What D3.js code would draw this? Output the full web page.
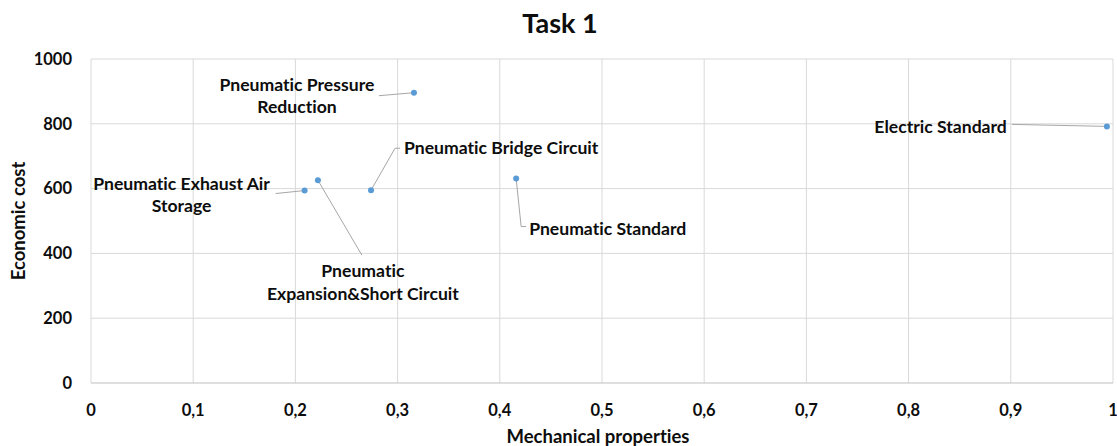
<!DOCTYPE html>
<html>
<head>
<meta charset="utf-8">
<script src="https://cdn.jsdelivr.net/npm/d3@7"></script>
<style>
  body { margin: 0; background: #fff; }
  text { font-family: Lato, "Liberation Sans", sans-serif; font-weight: bold; fill: #0d0d0d;
         font-variant-ligatures: none; font-feature-settings: "liga" 0; }
</style>
</head>
<body>
<div id="chart"></div>
<script>
const names = [
    "Pneumatic Exhaust Air Storage",
    "Pneumatic Expansion&Short Circuit",
    "Pneumatic Bridge Circuit",
    "Pneumatic Pressure Reduction",
    "Pneumatic Standard",
    "Electric Standard"
];
const mechanical = [0.209, 0.222, 0.274, 0.316, 0.416, 0.994];
const cost = [594, 626, 595, 896, 631, 792];
const xTicks = [0, 0.1, 0.2, 0.3, 0.4, 0.5, 0.6, 0.7, 0.8, 0.9, 1];
const yTicks = [0, 200, 400, 600, 800, 1000];

// label placement, pixels relative to the point (lines, anchor, text x/y, leader path)
const labelLayout = [
    { lines: ["Pneumatic Exhaust Air", "Storage"], anchor: "middle", dx: -123, dy: -7,
      leader: [[0, 0], [-29, 3]] },
    { lines: ["Pneumatic", "Expansion&Short Circuit"], anchor: "middle", dx: 45, dy: 91,
      leader: [[0, 0], [44, 75]] },
    { lines: ["Pneumatic Bridge Circuit"], anchor: "start", dx: 33, dy: -42,
      leader: [[0, 0], [24, -42], [29, -42]] },
    { lines: ["Pneumatic Pressure", "Reduction"], anchor: "middle", dx: -117, dy: -8,
      leader: [[0, 0], [-35, 3]] },
    { lines: ["Pneumatic Standard"], anchor: "start", dx: 13, dy: 50,
      leader: [[0, 0], [5, 48], [10, 48]] },
    { lines: ["Electric Standard"], anchor: "end", dx: -100, dy: 0,
      leader: [[0, 0], [-95, -2]] }
];

const points = names.map((n, i) => ({ name: n, x: mechanical[i], y: cost[i], layout: labelLayout[i] }));

const width = 1117, height = 446;
const margin = { top: 59, right: 4, bottom: 63, left: 91 };

const svg = d3.select('#chart').append('svg')
    .attr('width', width)
    .attr('height', height);

const x = d3.scaleLinear().domain([0, 1]).range([margin.left, width - margin.right]);
const y = d3.scaleLinear().domain([0, 1000]).range([height - margin.bottom, margin.top]);

const fmtX = d => (d === 0 || d === 1) ? String(d) : d.toFixed(1).replace('.', ',');

// gridlines
svg.append('g').selectAll('line.vx')
    .data(xTicks.slice(1))
    .join('line')
    .attr('x1', d => x(d)).attr('x2', d => x(d))
    .attr('y1', y(0)).attr('y2', y(1000))
    .attr('stroke', '#d9d9d9').attr('stroke-width', 1);

svg.append('g').selectAll('line.hy')
    .data(yTicks.slice(1))
    .join('line')
    .attr('x1', x(0)).attr('x2', x(1))
    .attr('y1', d => y(d)).attr('y2', d => y(d))
    .attr('stroke', '#d9d9d9').attr('stroke-width', 1);

// axes lines
svg.append('line')
    .attr('x1', x(0)).attr('x2', x(1))
    .attr('y1', y(0)).attr('y2', y(0))
    .attr('stroke', '#bfbfbf');
svg.append('line')
    .attr('x1', x(0)).attr('x2', x(0))
    .attr('y1', y(0)).attr('y2', y(1000))
    .attr('stroke', '#d9d9d9');

// tick labels
svg.append('g').selectAll('text')
    .data(xTicks)
    .join('text')
    .attr('x', d => x(d))
    .attr('y', y(0) + 27)
    .attr('dy', '0.35em')
    .attr('text-anchor', 'middle')
    .attr('font-size', 16.5)
    .text(fmtX);

svg.append('g').selectAll('text')
    .data(yTicks)
    .join('text')
    .attr('x', 72)
    .attr('y', d => y(d))
    .attr('dy', '0.35em')
    .attr('text-anchor', 'end')
    .attr('font-size', 16.5)
    .text(d => d);

// titles
svg.append('text')
    .attr('x', 560).attr('y', 24)
    .attr('dy', '0.35em')
    .attr('text-anchor', 'middle')
    .attr('font-size', 27)
    .text('Task 1');

svg.append('text')
    .attr('x', (x(0) + x(1)) / 2 - 4).attr('y', 437)
    .attr('dy', '0.35em')
    .attr('text-anchor', 'middle')
    .attr('font-size', 18.5)
    .text('Mechanical properties');

svg.append('text')
    .attr('transform', `translate(19,${(y(0) + y(1000)) / 2}) rotate(-90)`)
    .attr('dy', '0.35em')
    .attr('text-anchor', 'middle')
    .attr('font-size', 18.5)
    .text('Economic cost');

// leader lines
svg.append('g').selectAll('path')
    .data(points)
    .join('path')
    .attr('d', d => d3.line()(d.layout.leader.map(p => [x(d.x) + p[0], y(d.y) + p[1]])))
    .attr('fill', 'none')
    .attr('stroke', '#a6a6a6')
    .attr('stroke-width', 1);

// points
svg.append('g').selectAll('circle')
    .data(points)
    .join('circle')
    .attr('cx', d => x(d.x))
    .attr('cy', d => y(d.y))
    .attr('r', 3)
    .attr('fill', '#5b9bd5');

// data labels
const labels = svg.append('g').selectAll('text')
    .data(points)
    .join('text')
    .attr('text-anchor', d => d.layout.anchor)
    .attr('font-size', 17.6);

labels.selectAll('tspan')
    .data(d => d.layout.lines.map((l, i) => ({ l, i, d })))
    .join('tspan')
    .attr('x', t => x(t.d.x) + t.d.layout.dx)
    .attr('y', t => y(t.d.y) + t.d.layout.dy + t.i * 22.5)
    .attr('dy', '0.35em')
    .text(t => t.l);
</script>
</body>
</html>
